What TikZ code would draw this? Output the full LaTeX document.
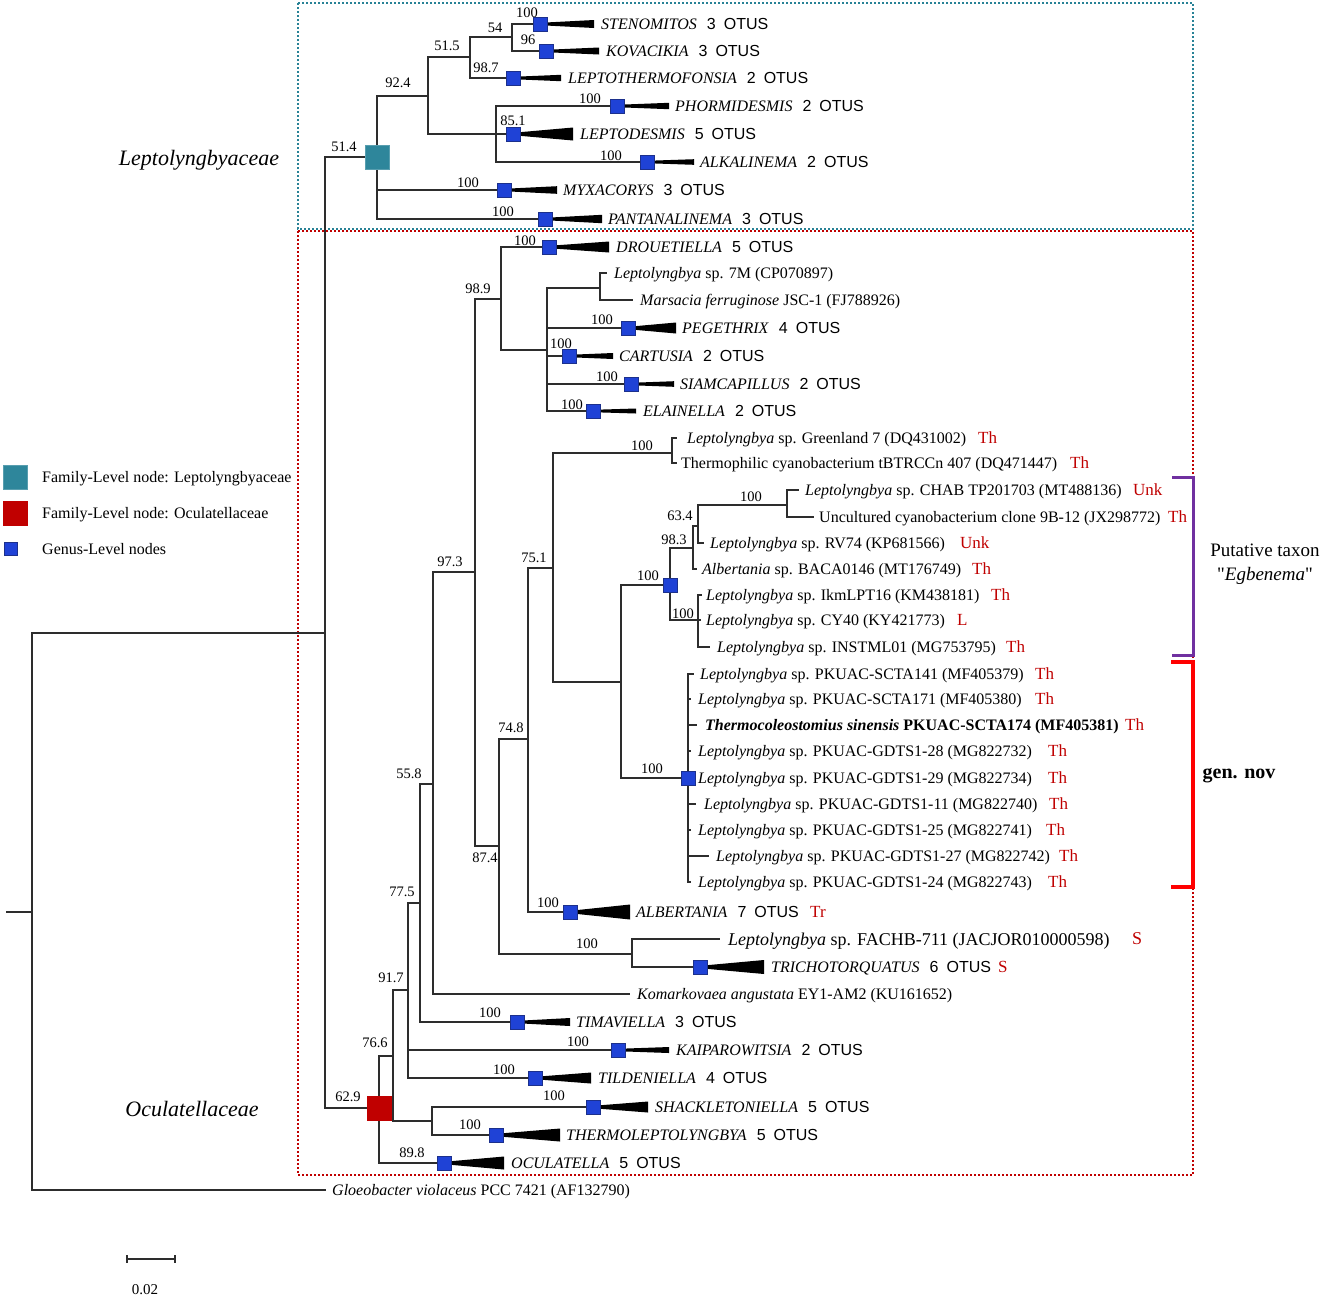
\documentclass[tikz,border=0pt]{standalone}
\usepackage{fontspec}
\setmainfont{Liberation Serif}
\newfontfamily\arialf{Liberation Sans}
\newfontfamily\qfont{Liberation Serif}[Ligatures=TeXOff]
\definecolor{treeline}{RGB}{45,45,45}
\definecolor{genusblue}{RGB}{31,66,214}
\definecolor{genusedge}{RGB}{28,48,140}
\definecolor{famteal}{RGB}{46,134,155}
\definecolor{famred}{RGB}{192,0,0}
\definecolor{tagred}{RGB}{192,0,0}
\definecolor{boxteal}{RGB}{40,130,150}
\definecolor{boxred}{RGB}{192,0,0}
\definecolor{brpurple}{RGB}{112,48,160}
\definecolor{brred}{RGB}{255,0,0}
\newcommand\myfs[1]{\fontsize{#1bp}{#1bp}\selectfont}
\newcommand\gname[2]{\textit{#1}\hspace{10bp}{\arialf #2}\hspace{8bp}{\arialf OTUS}}
\begin{document}
\begin{tikzpicture}[x=1bp,y=-1bp,
  br/.style={draw=treeline,line width=1.1bp},
  lab/.style={anchor=base west,inner sep=0pt,yshift=-5bp,font=\myfs{16}},
  bsv/.style={anchor=base,inner sep=0pt,yshift=-5bp,font=\myfs{14.5}},
  tag/.style={anchor=base west,inner sep=0pt,yshift=-5.5bp,text=tagred,font=\myfs{17}},
  gsq/.style={draw=genusedge,fill=genusblue,line width=0.6bp,minimum size=14bp,inner sep=0pt},
  fsq/.style={minimum size=24bp,inner sep=0pt,line width=0.6bp},
  famlab/.style={anchor=base,inner sep=0pt,yshift=-7bp,font=\myfs{22}\itshape},
  tri/.style={fill=black},
  dotbox/.style={line width=1.8bp,dash pattern=on 2bp off 2bp},
]
\fill[white] (0,0) rectangle (1325,1297);
\useasboundingbox (0,0) rectangle (1325,1297);

% ---------- boxes ----------
\draw[dotbox,draw=boxteal] (298,3) rectangle (1193,229);
\draw[dotbox,draw=boxred] (298,231) rectangle (1193,1175);

% ---------- internal node coordinates ----------
\coordinate (stub) at (6,912);
\coordinate (R) at (32,912);
\coordinate (N325) at (325,633);
\coordinate (TEAL) at (377,157);
\coordinate (N428) at (428,96);
\coordinate (N470) at (470,57);
\coordinate (N512) at (512,37);
\coordinate (N496) at (496,134);
\coordinate (RED) at (379,1108);
\coordinate (N393) at (393,1056);
\coordinate (N408) at (408,990);
\coordinate (N420) at (420,903);
\coordinate (N433) at (433,784);
\coordinate (N475) at (475,572);
\coordinate (N501) at (501,299);
\coordinate (N547) at (547,350);
\coordinate (N600) at (600,288);
\coordinate (N499) at (499,846);
\coordinate (N528) at (528,739);
\coordinate (N553) at (553,568);
\coordinate (N672) at (672,453);
\coordinate (N621) at (621,682);
\coordinate (EGB) at (670,585);
\coordinate (N693) at (693,548);
\coordinate (N698a) at (698,526);
\coordinate (N787) at (787,505);
\coordinate (N698b) at (698,620);
\coordinate (GEN) at (688,778);
\coordinate (N632) at (632,954);
\coordinate (N432) at (432,1121);

% ---------- genus attachment points ----------
\coordinate (sten) at (540,24);
\coordinate (kova) at (546,51);
\coordinate (lthe) at (513,78);
\coordinate (phor) at (617,106);
\coordinate (ltod) at (513,134);
\coordinate (alka) at (647,162);
\coordinate (myxa) at (504,190);
\coordinate (pant) at (545,219);
\coordinate (drou) at (549,247);
\coordinate (pege) at (628,328);
\coordinate (cart) at (569,356);
\coordinate (siam) at (631,384);
\coordinate (elai) at (593,411);
\coordinate (albe) at (570,912);
\coordinate (tric) at (700,967);
\coordinate (tima) at (517,1022);
\coordinate (kaip) at (618,1050);
\coordinate (tild) at (535,1078);
\coordinate (shac) at (593,1107);
\coordinate (ther) at (496,1135);
\coordinate (ocul) at (444,1163);

% ---------- leaf tips ----------
\coordinate (t7m) at (607,273);
\coordinate (tmar) at (633,300);
\coordinate (tgre) at (677,438);
\coordinate (tthe) at (677,463);
\coordinate (tchab) at (799,490);
\coordinate (tunc) at (814,517);
\coordinate (trv) at (704,543);
\coordinate (talb) at (697,569);
\coordinate (tikm) at (702,595);
\coordinate (tcy) at (701,620);
\coordinate (tins) at (710,647);
\coordinate (tg1) at (694,674);
\coordinate (tg2) at (691,699);
\coordinate (tg3) at (697,725);
\coordinate (tg4) at (691,751);
\coordinate (tg6) at (696,804);
\coordinate (tg7) at (691,830);
\coordinate (tg8) at (709,856);
\coordinate (tg9) at (691,882);
\coordinate (tfac) at (720,939);
\coordinate (tkom) at (630,994);
\coordinate (tglo) at (326,1190);

% ---------- branches ----------
\draw[br] (stub) -- (R);
\draw[br] (R) |- (N325);
\draw[br] (R) |- (tglo);
\draw[br] (N325) |- (TEAL);
\draw[br] (N325) |- (RED);
\draw[br] (TEAL) |- (N428);
\draw[br] (TEAL) |- (myxa);
\draw[br] (TEAL) |- (pant);
\draw[br] (N428) |- (N470);
\draw[br] (N428) |- (N496);
\draw[br] (N470) |- (N512);
\draw[br] (N470) |- (lthe);
\draw[br] (N512) |- (sten);
\draw[br] (N512) |- (kova);
\draw[br] (N496) |- (phor);
\draw[br] (N496) |- (ltod);
\draw[br] (N496) |- (alka);
\draw[br] (RED) |- (N393);
\draw[br] (RED) |- (ocul);
\draw[br] (N393) |- (N408);
\draw[br] (N393) |- (N432);
\draw[br] (N432) |- (shac);
\draw[br] (N432) |- (ther);
\draw[br] (N408) |- (N420);
\draw[br] (N408) |- (kaip);
\draw[br] (N408) |- (tild);
\draw[br] (N420) |- (N433);
\draw[br] (N420) |- (tima);
\draw[br] (N433) |- (N475);
\draw[br] (N433) |- (tkom);
\draw[br] (N475) |- (N501);
\draw[br] (N475) |- (N499);
\draw[br] (N501) |- (drou);
\draw[br] (N501) |- (N547);
\draw[br] (N547) |- (N600);
\draw[br] (N547) |- (pege);
\draw[br] (N547) |- (cart);
\draw[br] (N547) |- (siam);
\draw[br] (N547) |- (elai);
\draw[br] (N600) |- (t7m);
\draw[br] (N600) |- (tmar);
\draw[br] (N499) |- (N528);
\draw[br] (N499) |- (N632);
\draw[br] (N528) |- (N553);
\draw[br] (N528) |- (albe);
\draw[br] (N553) |- (N672);
\draw[br] (N553) |- (N621);
\draw[br] (N672) |- (tgre);
\draw[br] (N672) |- (tthe);
\draw[br] (N621) |- (EGB);
\draw[br] (N621) |- (GEN);
\draw[br] (EGB) |- (N693);
\draw[br] (EGB) |- (N698b);
\draw[br] (N693) |- (N698a);
\draw[br] (N693) |- (talb);
\draw[br] (N698a) |- (N787);
\draw[br] (N698a) |- (trv);
\draw[br] (N787) |- (tchab);
\draw[br] (N787) |- (tunc);
\draw[br] (N698b) |- (tikm);
\draw[br] (N698b) |- (tcy);
\draw[br] (N698b) |- (tins);
\draw[br] (GEN) |- (tg1);
\draw[br] (GEN) |- (tg2);
\draw[br] (GEN) |- (tg3);
\draw[br] (GEN) |- (tg4);
\draw[br] (GEN) |- (tg6);
\draw[br] (GEN) |- (tg7);
\draw[br] (GEN) |- (tg8);
\draw[br] (GEN) |- (tg9);
\draw[br] (N632) |- (tfac);
\draw[br] (N632) |- (tric);

% ---------- collapsed genera ----------
\foreach \vA/\vB/\vC/\vD/\vE/\vF/\vG/\vH in {
 sten/540/24/594/4/601/STENOMITOS/3,
 kova/546/51/599/3.5/606/KOVACIKIA/3,
 lthe/513/78/561/3.2/568/LEPTOTHERMOFONSIA/2,
 phor/617/106/669/3.2/675/PHORMIDESMIS/2,
 ltod/513/134/573/6.5/580/LEPTODESMIS/5,
 alka/647/162/694/2.8/700/ALKALINEMA/2,
 myxa/504/190/557/3.8/563/MYXACORYS/3,
 pant/545/219/602/4.2/608/PANTANALINEMA/3,
 drou/549/247/609/5.5/616/DROUETIELLA/5,
 pege/628/328/676/5.5/682/PEGETHRIX/4,
 cart/569/356/613/3/619/CARTUSIA/2,
 siam/631/384/674/2.8/680/SIAMCAPILLUS/2,
 elai/593/411/636/2.5/643/ELAINELLA/2,
 albe/570/912/630/7.5/636/ALBERTANIA/7,
 tric/700/967/764/7/771/TRICHOTORQUATUS/6,
 tima/517/1022/570/4/576/TIMAVIELLA/3,
 kaip/618/1050/669/3/676/KAIPAROWITSIA/2,
 tild/535/1078/591/5.5/598/TILDENIELLA/4,
 shac/593/1107/648/5.5/655/SHACKLETONIELLA/5,
 ther/496/1135/560/6.5/566/THERMOLEPTOLYNGBYA/5,
 ocul/444/1163/504/6.5/511/OCULATELLA/5}
{
 \fill[tri] (\vB,\vC-1.2) -- (\vD,\vC-\vE) -- (\vD,\vC+\vE) -- (\vB,\vC+1.2) -- cycle;
 \node[gsq] (\vA-sq) at (\vA) {};
 \node[lab] (\vA-lab) at (\vF,\vC) {\gname{\vG}{\vH}};
}

% ---------- node squares ----------
\node[gsq] (egbsq) at (EGB) {};
\node[gsq] (gensq) at (GEN) {};
\node[fsq,fill=famteal,draw=famteal!80!white] (tealsq) at (TEAL) {};
\node[fsq,fill=famred,draw=famred] (redsq) at (RED) {};

% ---------- leaf labels ----------
\node[lab] (l7m) at (614,273) {\textit{Leptolyngbya} sp. 7M (CP070897)};
\node[lab] (lmar) at (640,300) {\textit{Marsacia ferruginose} JSC-1 (FJ788926)};
\node[lab] (lgre) at (687,438) {\textit{Leptolyngbya} sp. Greenland 7 (DQ431002)};
\node[lab] (lthm) at (681,463) {Thermophilic cyanobacterium tBTRCCn 407 (DQ471447)};
\node[lab] (lchab) at (805,490) {\textit{Leptolyngbya} sp. CHAB TP201703 (MT488136)};
\node[lab] (lunc) at (819,517) {Uncultured cyanobacterium clone 9B-12 (JX298772)};
\node[lab] (lrv) at (710,543) {\textit{Leptolyngbya} sp. RV74 (KP681566)};
\node[lab] (lalb) at (702,569) {\textit{Albertania} sp. BACA0146 (MT176749)};
\node[lab] (likm) at (706,595) {\textit{Leptolyngbya} sp. IkmLPT16 (KM438181)};
\node[lab] (lcy) at (706,620) {\textit{Leptolyngbya} sp. CY40 (KY421773)};
\node[lab] (lins) at (717,647) {\textit{Leptolyngbya} sp. INSTML01 (MG753795)};
\node[lab] (lg1) at (700,674) {\textit{Leptolyngbya} sp. PKUAC-SCTA141 (MF405379)};
\node[lab] (lg2) at (698,699) {\textit{Leptolyngbya} sp. PKUAC-SCTA171 (MF405380)};
\node[lab] (lg3) at (705,725) {\bfseries\textit{Thermocoleostomius sinensis} PKUAC-SCTA174 (MF405381)};
\node[lab] (lg4) at (698,751) {\textit{Leptolyngbya} sp. PKUAC-GDTS1-28 (MG822732)};
\node[lab] (lg5) at (698,778) {\textit{Leptolyngbya} sp. PKUAC-GDTS1-29 (MG822734)};
\node[lab] (lg6) at (704,804) {\textit{Leptolyngbya} sp. PKUAC-GDTS1-11 (MG822740)};
\node[lab] (lg7) at (698,830) {\textit{Leptolyngbya} sp. PKUAC-GDTS1-25 (MG822741)};
\node[lab] (lg8) at (716,856) {\textit{Leptolyngbya} sp. PKUAC-GDTS1-27 (MG822742)};
\node[lab] (lg9) at (698,882) {\textit{Leptolyngbya} sp. PKUAC-GDTS1-24 (MG822743)};
\node[lab,font=\myfs{18},yshift=-1bp] (lfac) at (728,939) {\textit{Leptolyngbya} sp. FACHB-711 (JACJOR010000598)};
\node[lab] (lkom) at (637,994) {\textit{Komarkovaea angustata} EY1-AM2 (KU161652)};
\node[lab] (lglo) at (332,1190) {\textit{Gloeobacter violaceus} PCC 7421 (AF132790)};

% ---------- red habitat tags ----------
\foreach \vA/\vB/\vC [count=\vI] in {978/438/Th, 1070/463/Th, 1133/490/Unk, 1168/517/Th,
 960/543/Unk, 972/569/Th, 991/595/Th, 957/620/L, 1006/647/Th, 1035/674/Th, 1035/699/Th,
 1125/725/Th, 1048/751/Th, 1048/778/Th, 1049/804/Th, 1046/830/Th, 1059/856/Th, 1048/882/Th,
 810/912/Tr, 998/967/S}
 \node[tag] (tag\vI) at (\vA,\vB) {\vC};
\node[tag,font=\myfs{18}] (tagfac) at (1132,939) {S};

% ---------- support values ----------
\foreach \vA/\vB/\vC [count=\vI] in {527/12/100, 495/27/54, 528/39/96, 447/45/51.5, 486/67/98.7,
 398/82/92.4, 590/98/100, 513/120/85.1, 344/146/51.4, 611/155/100, 468/182/100, 503/211/100,
 525/240/100, 478/288/98.9, 602/319/100, 561/343/100, 607/376/100, 572/404/100, 642/445/100,
 751/496/100, 680/515/63.4, 674/539/98.3, 450/561/97.3, 534/557/75.1, 648/575/100, 683/613/100,
 511/727/74.8, 652/768/100, 409/773/55.8, 485/857/87.4, 402/891/77.5, 548/902/100, 587/943/100,
 391/977/91.7, 490/1012/100, 375/1042/76.6, 578/1041/100, 504/1069/100, 348/1096/62.9,
 554/1095/100, 470/1124/100, 412/1152/89.8}
 \node[bsv] (bs\vI) at (\vA,\vB) {\vC};

% ---------- family labels ----------
\node[famlab] (famlep) at (199,158) {Leptolyngbyaceae};
\node[famlab] (famocu) at (192,1109) {Oculatellaceae};

% ---------- brackets ----------
\coordinate (pb1) at (1172,477);
\coordinate (pb2) at (1193,477);
\coordinate (pb3) at (1193,655);
\coordinate (pb4) at (1172,655);
\draw[brpurple,line width=3bp] (pb1) -- (pb2) -- (pb3) -- (pb4);
\coordinate (rb1) at (1171,662);
\coordinate (rb2) at (1193,662);
\coordinate (rb3) at (1193,887);
\coordinate (rb4) at (1171,887);
\draw[brred,line width=3.5bp] (rb1) -- (rb2) -- (rb3) -- (rb4);
\node[font=\fontsize{19bp}{24bp}\selectfont,align=center,inner sep=0pt] (putative) at (1265,564) {Putative taxon\\{\qfont"}\textit{Egbenema}{\qfont"}};
\node[font=\myfs{20}\bfseries,inner sep=0pt] (gennov) at (1239,776) {gen. nov};

% ---------- legend ----------
\node[fsq,fill=famteal,draw=famteal!80!white] (lgteal) at (15,477) {};
\node[lab] (lgtealt) at (42,477) {Family-Level node: Leptolyngbyaceae};
\node[fsq,fill=famred,draw=famred] (lgred) at (15,513) {};
\node[lab] (lgredt) at (42,513) {Family-Level node: Oculatellaceae};
\node[gsq,minimum size=13bp] (lgblue) at (11,549) {};
\node[lab] (lgbluet) at (42,549) {Genus-Level nodes};

% ---------- scale bar ----------
\coordinate (sb1) at (127,1259);
\coordinate (sb2) at (175,1259);
\coordinate (sb1a) at (127,1255);
\coordinate (sb1b) at (127,1263);
\coordinate (sb2a) at (175,1255);
\coordinate (sb2b) at (175,1263);
\draw[br] (sb1) -- (sb2);
\draw[br] (sb1a) -- (sb1b);
\draw[br] (sb2a) -- (sb2b);
\node[bsv,font=\myfs{15}] (sblab) at (145,1289) {0.02};
\end{tikzpicture}
\end{document}
